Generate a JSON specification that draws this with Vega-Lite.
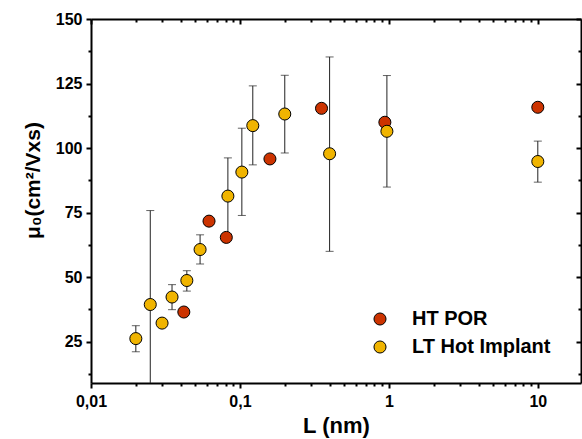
{
  "$schema": "https://vega.github.io/schema/vega-lite/v6.json",
  "width": 490,
  "height": 364,
  "autosize": {"type": "none"},
  "padding": {"left": 91, "top": 19, "right": 1, "bottom": 56},
  "background": "white",
  "config": {
    "view": {"stroke": null},
    "font": "Liberation Sans",
    "axis": {
      "domainColor": "black",
      "domainWidth": 2,
      "tickColor": "black",
      "tickWidth": 2,
      "grid": false,
      "labelFont": "Liberation Sans",
      "labelFontWeight": "bold",
      "labelFontSize": 16,
      "labelColor": "black",
      "titleFont": "Liberation Sans",
      "titleFontWeight": "bold",
      "titleColor": "black",
      "labelOverlap": false,
      "labelFlush": false,
      "labelBound": false
    }
  },
  "data": {
    "values": [
      {"series": "HT POR", "L": 0.042, "mu": 36.5},
      {"series": "HT POR", "L": 0.062, "mu": 71.7},
      {"series": "HT POR", "L": 0.081, "mu": 65.4},
      {"series": "HT POR", "L": 0.159, "mu": 95.8},
      {"series": "HT POR", "L": 0.353, "mu": 115.4},
      {"series": "HT POR", "L": 0.94, "mu": 110},
      {"series": "HT POR", "L": 10, "mu": 115.8},
      {"series": "LT Hot Implant", "L": 0.02, "mu": 26.2, "lo": 21.1, "hi": 31.2},
      {"series": "LT Hot Implant", "L": 0.025, "mu": 39.4, "lo": 3, "hi": 75.8},
      {"series": "LT Hot Implant", "L": 0.03, "mu": 32.2, "lo": 30.7, "hi": 33.7},
      {"series": "LT Hot Implant", "L": 0.035, "mu": 42.3, "lo": 37.4, "hi": 47.1},
      {"series": "LT Hot Implant", "L": 0.044, "mu": 48.7, "lo": 44.6, "hi": 52.5},
      {"series": "LT Hot Implant", "L": 0.054, "mu": 60.7, "lo": 55.1, "hi": 66.4},
      {"series": "LT Hot Implant", "L": 0.083, "mu": 81.4, "lo": 66.6, "hi": 96.2},
      {"series": "LT Hot Implant", "L": 0.103, "mu": 90.7, "lo": 73.9, "hi": 107.7},
      {"series": "LT Hot Implant", "L": 0.122, "mu": 108.7, "lo": 93.5, "hi": 124.1},
      {"series": "LT Hot Implant", "L": 0.2, "mu": 113.2, "lo": 98.1, "hi": 128.2},
      {"series": "LT Hot Implant", "L": 0.4, "mu": 97.8, "lo": 60, "hi": 135.3},
      {"series": "LT Hot Implant", "L": 0.97, "mu": 106.5, "lo": 84.9, "hi": 128.1},
      {"series": "LT Hot Implant", "L": 10, "mu": 94.8, "lo": 86.8, "hi": 102.7}
    ]
  },
  "resolve": {"axis": {"x": "independent", "y": "independent"}},
  "layer": [
    {
      "transform": [{"filter": "isValid(datum.lo)"}],
      "mark": {"type": "rule", "color": "#222222", "strokeWidth": 1, "clip": true},
      "encoding": {
        "x": {
          "field": "L", "type": "quantitative",
          "scale": {"type": "log", "domain": [0.01, 19.5], "nice": false},
          "axis": {
            "orient": "bottom",
            "title": "L (nm)",
            "titleFontSize": 22,
            "titlePadding": 6,
            "values": [0.01, 0.02, 0.03, 0.04, 0.05, 0.06, 0.07, 0.08, 0.09, 0.1, 0.2, 0.3, 0.4, 0.5, 0.6, 0.7, 0.8, 0.9, 1, 2, 3, 4, 5, 6, 7, 8, 9, 10],
            "labelExpr": "datum.value == 0.01 ? '0,01' : datum.value == 0.1 ? '0,1' : datum.value == 1 ? '1' : datum.value == 10 ? '10' : ''",
            "tickSize": {"condition": {"test": "datum.value == 0.01 || datum.value == 0.1 || datum.value == 1 || datum.value == 10", "value": 5}, "value": 3},
            "labelPadding": 5
          }
        },
        "y": {
          "field": "lo", "type": "quantitative",
          "scale": {"domain": [9, 150], "nice": false, "zero": false},
          "axis": {
            "orient": "left",
            "title": "μ₀(cm²/Vxs)",
            "titleFontSize": 21,
            "values": [12.5, 25, 37.5, 50, 62.5, 75, 87.5, 100, 112.5, 125, 137.5, 150],
            "labelExpr": "datum.value % 25 == 0 ? datum.value : ''",
            "tickSize": {"condition": {"test": "datum.value % 25 == 0", "value": 5}, "value": 3},
            "labelPadding": 4,
            "titleAngle": -90,
            "titleX": -58,
            "titleY": 161,
            "titleAlign": "center",
            "titleBaseline": "middle"
          }
        },
        "y2": {"field": "hi"}
      }
    },
    {
      "transform": [{"filter": "isValid(datum.lo)"}],
      "mark": {"type": "tick", "orient": "horizontal", "color": "#222222", "size": 8, "thickness": 1, "clip": true},
      "encoding": {
        "x": {"field": "L", "type": "quantitative", "axis": null},
        "y": {"field": "lo", "type": "quantitative", "axis": null}
      }
    },
    {
      "transform": [{"filter": "isValid(datum.hi)"}],
      "mark": {"type": "tick", "orient": "horizontal", "color": "#222222", "size": 8, "thickness": 1, "clip": true},
      "encoding": {
        "x": {"field": "L", "type": "quantitative", "axis": null},
        "y": {"field": "hi", "type": "quantitative", "axis": null}
      }
    },
    {
      "mark": {"type": "point", "filled": true, "stroke": "black", "strokeWidth": 1, "size": 145, "opacity": 1},
      "encoding": {
        "x": {
          "field": "L", "type": "quantitative",
          "axis": {
            "orient": "top",
            "title": null,
            "labels": false,
            "values": [0.01, 0.02, 0.03, 0.04, 0.05, 0.06, 0.07, 0.08, 0.09, 0.1, 0.2, 0.3, 0.4, 0.5, 0.6, 0.7, 0.8, 0.9, 1, 2, 3, 4, 5, 6, 7, 8, 9, 10],
            "tickSize": {"condition": {"test": "datum.value == 0.01 || datum.value == 0.1 || datum.value == 1 || datum.value == 10", "value": -5}, "value": -3}
          }
        },
        "y": {
          "field": "mu", "type": "quantitative",
          "axis": {
            "orient": "right",
            "title": null,
            "labels": false,
            "values": [12.5, 25, 37.5, 50, 62.5, 75, 87.5, 100, 112.5, 125, 137.5, 150],
            "tickSize": {"condition": {"test": "datum.value % 25 == 0", "value": -5}, "value": -3}
          }
        },
        "color": {
          "field": "series", "type": "nominal",
          "scale": {"domain": ["HT POR", "LT Hot Implant"], "range": ["#CC3300", "#F0B400"]},
          "legend": {
            "title": null,
            "orient": "none",
            "legendX": 279,
            "legendY": 290,
            "padding": 0,
            "symbolType": "circle",
            "symbolSize": 145,
            "symbolStrokeColor": "black",
            "symbolStrokeWidth": 1,
            "symbolOpacity": 1,
            "labelFont": "Liberation Sans",
            "labelFontWeight": "bold",
            "labelFontSize": 20,
            "labelColor": "black",
            "labelOffset": 22,
            "rowPadding": 8
          }
        }
      }
    }
  ]
}
